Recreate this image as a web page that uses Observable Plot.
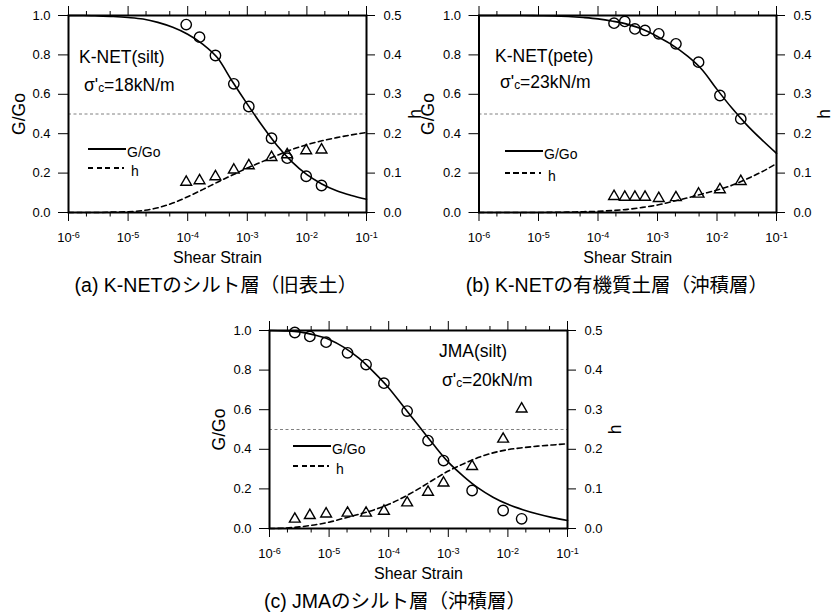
<!DOCTYPE html>
<html>
<head>
<meta charset="utf-8">
<script src="https://cdn.jsdelivr.net/npm/d3@7"></script>
<script src="https://cdn.jsdelivr.net/npm/@observablehq/plot@0.6"></script>
<style>
  body { margin: 0; background: #fff; }
  #root { position: relative; width: 833px; height: 614px; overflow: hidden;
          font-family: "Liberation Sans", Arial, "Noto Sans CJK JP", sans-serif; color: #000; }
  #root svg { position: absolute; overflow: visible; }
  .txt { position: absolute; white-space: nowrap; line-height: 1; }
  .cap { position: absolute; white-space: nowrap; line-height: 1; font-size: 19.5px;
         transform: translate(-50%, -50%); }
  .sw { position: absolute; height: 1.6px; }
  .solid { background: #000; }
  .dash { background: repeating-linear-gradient(to right, #000 0 5px, transparent 5px 8.5px); }
  sub.c { font-size: 0.68em; vertical-align: -0.05em; }
</style>
</head>
<body>
<div id="root"></div>
<script>
// ---------- shared axes values ----------
const majorTicks = [1e-6, 1e-5, 1e-4, 1e-3, 1e-2, 1e-1];
const minorTicks = [2e-6, 5e-6, 2e-5, 5e-5, 2e-4, 5e-4, 2e-3, 5e-3, 2e-2, 5e-2];
const yTicks = [0, 0.2, 0.4, 0.6, 0.8, 1.0];
const hAxisMax = 0.5;          // right axis (h) runs 0 .. 0.5
const refLine = [0.5];
const curveStrain = [1e-6, 1.78e-6, 3.16e-6, 5.62e-6, 1e-5, 1.78e-5, 3.16e-5, 5.62e-5,
                     1e-4, 1.78e-4, 3.16e-4, 5.62e-4, 1e-3, 1.78e-3, 3.16e-3, 5.62e-3,
                     1e-2, 1.78e-2, 3.16e-2, 5.62e-2, 1e-1];

// ---------- (a) K-NET silt ----------
const aCurveG = [1.000, 1.000, 0.998, 0.995, 0.990, 0.982, 0.965, 0.940, 0.905, 0.855, 0.785,
                 0.665, 0.550, 0.440, 0.340, 0.257, 0.192, 0.145, 0.110, 0.086, 0.067];
const aCurveH = [0, 0, 0, 0.001, 0.002, 0.005, 0.012, 0.024, 0.040, 0.058, 0.077,
                 0.095, 0.113, 0.129, 0.145, 0.160, 0.172, 0.182, 0.190, 0.197, 0.203];
const aPtStrain = [9.44e-5, 1.58e-4, 2.92e-4, 5.94e-4, 1.06e-3, 2.55e-3, 4.67e-3, 9.73e-3, 1.76e-2];
const aPtG = [0.954, 0.890, 0.797, 0.653, 0.538, 0.377, 0.276, 0.184, 0.137];
const aPtH = [0.077, 0.081, 0.091, 0.108, 0.119, 0.140, 0.147, 0.157, 0.159];

// ---------- (b) K-NET peat ----------
const bCurveG = [1.000, 1.000, 1.000, 1.000, 0.999, 0.998, 0.995, 0.990, 0.983, 0.971, 0.955,
                 0.930, 0.893, 0.850, 0.795, 0.725, 0.625, 0.530, 0.445, 0.370, 0.300];
const bCurveH = [0, 0, 0, 0, 0, 0.0005, 0.001, 0.002, 0.003, 0.005, 0.008,
                 0.013, 0.019, 0.028, 0.037, 0.047, 0.057, 0.069, 0.085, 0.103, 0.124];
const bPtStrain = [1.86e-4, 2.82e-4, 4.17e-4, 6.17e-4, 1.05e-3, 2.04e-3, 4.90e-3, 1.12e-2, 2.51e-2];
const bPtG = [0.961, 0.970, 0.932, 0.924, 0.907, 0.856, 0.763, 0.594, 0.475];
const bPtH = [0.041, 0.039, 0.039, 0.039, 0.036, 0.038, 0.047, 0.058, 0.079];

// ---------- (c) JMA silt ----------
const cCurveG = [1.000, 0.998, 0.993, 0.978, 0.955, 0.915, 0.860, 0.790, 0.710, 0.615, 0.520,
                 0.425, 0.335, 0.265, 0.205, 0.158, 0.122, 0.095, 0.073, 0.055, 0.040];
const cCurveH = [0, 0.001, 0.004, 0.009, 0.016, 0.026, 0.036, 0.047, 0.061, 0.079, 0.100,
                 0.123, 0.145, 0.163, 0.179, 0.191, 0.199, 0.204, 0.208, 0.211, 0.214];
const cPtStrain = [2.66e-6, 4.75e-6, 8.91e-6, 2.04e-5, 4.17e-5, 8.32e-5, 2.04e-4, 4.57e-4,
                   8.32e-4, 2.51e-3, 8.32e-3, 1.70e-2];
const cPtG = [0.990, 0.970, 0.941, 0.887, 0.828, 0.734, 0.593, 0.444, 0.343, 0.192, 0.091, 0.049];
const cPtH = [0.024, 0.033, 0.037, 0.039, 0.039, 0.044, 0.065, 0.092, 0.115, 0.157, 0.226, 0.302];

// ---------- texts ----------
const xLabel = "Shear Strain";
const yLabelLeft = "G/Go";
const yLabelRight = "h";
const legendG = "G/Go";
const legendH = "h";
const panelNames = ["K-NET(silt)", "K-NET(pete)", "JMA(silt)"];
const sigmaValues = ["18kN/m", "23kN/m", "20kN/m"];
const captions = ["(a) K-NETのシルト層（旧表土）", "(b) K-NETの有機質土層（沖積層）", "(c) JMAのシルト層（沖積層）"];

const FONT = '"Liberation Sans", Arial, "Noto Sans CJK JP", sans-serif';
const root = document.getElementById("root");

function panel(cfg) {
  const curve = curveStrain.map((x, i) => ({x, g: cfg.curveG[i], h: cfg.curveH[i]}));
  const pts = cfg.ptStrain.map((x, i) => ({x, g: cfg.ptG[i], h: cfg.ptH[i]}));
  const sup = d => "10|" + Math.round(Math.log10(d));
  const blank = () => "";
  const svg = Plot.plot({
    width: cfg.width, height: cfg.height,
    marginLeft: cfg.ml, marginRight: cfg.mr, marginTop: cfg.mt, marginBottom: cfg.mb,
    style: {fontFamily: FONT, fontSize: "13px", color: "#000", background: "transparent", overflow: "visible"},
    x: {type: "log", domain: [1e-6, 1e-1], axis: null},
    y: {domain: [0, 1], axis: null},
    marks: [
      Plot.ruleY(refLine, {stroke: "#808080", strokeWidth: 1, strokeDasharray: "3,2.5"}),
      Plot.line(curve, {x: "x", y: "g", curve: "monotone-x", stroke: "#000", strokeWidth: 1.6}),
      Plot.line(curve, {x: "x", y: d => d.h / hAxisMax, curve: "monotone-x", stroke: "#000",
                        strokeWidth: 1.6, strokeDasharray: "5,3.5"}),
      Plot.dot(pts, {x: "x", y: "g", r: 5.2, stroke: "#000", strokeWidth: 1.4, fill: "none"}),
      Plot.dot(pts, {x: "x", y: d => d.h / hAxisMax, symbol: "triangle", r: 4, stroke: "#000",
                     strokeWidth: 1.4, fill: "none"}),
      Plot.frame({stroke: "#000", strokeWidth: 2}),
      Plot.axisX({anchor: "bottom", ticks: majorTicks, tickSize: 9, tickPadding: 11, tickFormat: sup, label: null}),
      Plot.axisX({anchor: "bottom", ticks: minorTicks, tickSize: 4.5, tickFormat: blank, label: null}),
      Plot.axisX({anchor: "top", ticks: majorTicks, tickSize: 10, tickFormat: blank, label: null}),
      Plot.axisX({anchor: "top", ticks: minorTicks, tickSize: 5, tickFormat: blank, label: null}),
      Plot.axisY({anchor: "left", ticks: yTicks, tickSize: 10, tickPadding: 8,
                  tickFormat: d => d.toFixed(1), label: null}),
      Plot.axisY({anchor: "right", ticks: yTicks, tickSize: 8, tickPadding: 9,
                  tickFormat: d => (d * hAxisMax).toFixed(1), label: null}),
      Plot.text([yLabelLeft], {frameAnchor: "left", rotate: -90, dx: cfg.gdx, fontSize: 17.5,
                               textAnchor: "middle", lineAnchor: "middle", text: d => d}),
      Plot.text([yLabelRight], {frameAnchor: "right", rotate: -90, dx: cfg.hdx, fontSize: 17.5,
                                textAnchor: "middle", lineAnchor: "middle", text: d => d}),
      Plot.text([xLabel], {frameAnchor: "bottom", dy: 45.5, fontSize: 16,
                           textAnchor: "middle", lineAnchor: "middle", text: d => d})
    ]
  });
  // superscript exponents on the x tick labels
  d3.select(svg).selectAll("text").each(function () {
    const t = this.textContent;
    if (t.includes("|")) {
      const [b, e] = t.split("|");
      const s = d3.select(this);
      s.text(null);
      s.append("tspan").text(b);
      s.append("tspan").attr("dy", "-0.45em").attr("font-size", "0.7em").text(e.replace("−", "-"));
    }
  });
  svg.style.left = cfg.left + "px";
  svg.style.top = cfg.top + "px";
  root.appendChild(svg);
}

panel({left: 0, top: 0, width: 420, height: 270, ml: 68, mr: 54, mt: 15, mb: 58, gdx: -49.5, hdx: 48.5,
       curveG: aCurveG, curveH: aCurveH, ptStrain: aPtStrain, ptG: aPtG, ptH: aPtH});
panel({left: 410, top: 0, width: 423, height: 270, ml: 68.5, mr: 57, mt: 15, mb: 58, gdx: -50.5, hdx: 47.5,
       curveG: bCurveG, curveH: bCurveH, ptStrain: bPtStrain, ptG: bPtG, ptH: bPtH});
panel({left: 200, top: 315, width: 440, height: 270, ml: 69, mr: 73, mt: 15, mb: 57, gdx: -50, hdx: 48,
       curveG: cCurveG, curveH: cCurveH, ptStrain: cPtStrain, ptG: cPtG, ptH: cPtH});

// ---------- html overlays: annotations, legends, captions ----------
function textAt(html, left, baseline, fs) {
  const d = document.createElement("div");
  d.className = "txt";
  d.style.fontSize = fs + "px";
  d.style.left = left + "px";
  d.style.top = (baseline - 0.8465 * fs) + "px";
  d.innerHTML = html;
  root.appendChild(d);
}
function swatch(cls, left, y, w) {
  const d = document.createElement("div");
  d.className = "sw " + cls;
  d.style.left = left + "px";
  d.style.top = (y - 0.8) + "px";
  d.style.width = w + "px";
  root.appendChild(d);
}
function legend(x, yG, yH) {
  swatch("solid", x, yG, 38);
  textAt(legendG, x + 39, yG + 8, 14);
  swatch("dash", x, yH, 36);
  textAt(legendH, x + 43, yH + 7.5, 14);
}
const annot = [
  {x: 79, y: 64, sx: 84, sy: 92},
  {x: 495, y: 63, sx: 500, sy: 89},
  {x: 439, y: 358, sx: 442, sy: 387}
];
annot.forEach((a, i) => {
  textAt(panelNames[i], a.x, a.y, 17.5);
  textAt("σ'<sub class='c'>c</sub>=" + sigmaValues[i], a.sx, a.sy, 17.5);
});
legend(88, 149, 168);
legend(505, 151, 173);
legend(293, 446, 466);

const capPos = [[216, 286], [617, 286], [395, 602]];
captions.forEach((c, i) => {
  const d = document.createElement("div");
  d.className = "cap";
  d.style.left = capPos[i][0] + "px";
  d.style.top = capPos[i][1] + "px";
  d.textContent = c;
  root.appendChild(d);
});
</script>
</body>
</html>
